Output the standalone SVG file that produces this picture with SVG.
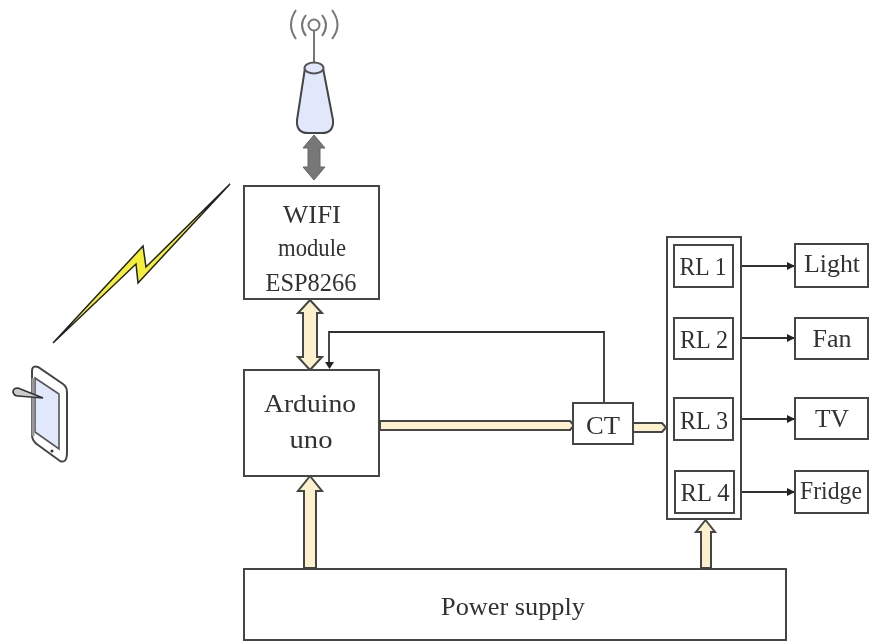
<svg xmlns="http://www.w3.org/2000/svg" width="869" height="644" viewBox="0 0 869 644">
<style>
.b{fill:#fff;stroke:#444;stroke-width:2}
.t{font-family:"Liberation Serif","Times New Roman",serif;font-size:26px;fill:#333;text-anchor:middle}
.a{fill:#fdf0cc;stroke:#444;stroke-width:2}
.l{fill:none;stroke:#333;stroke-width:1.8}
</style>
<defs>
<marker id="h" markerWidth="9" markerHeight="9" refX="7" refY="4" orient="auto" markerUnits="userSpaceOnUse"><path d="M0 0L8 4L0 8Z" fill="#222"/></marker>
<filter id="s" x="-5%" y="-5%" width="110%" height="110%"><feGaussianBlur stdDeviation="0.6"/></filter>
</defs>
<g filter="url(#s)">
<g id="connectors">
<path class="a" d="M310 300L322 313H317V357H322L310 370L298 357H303V313H298Z"/>
<path class="l" d="M329 363V332H604V403"/>
<path d="M325 362H334L329.500 369Z" fill="#222"/>
<path class="a" d="M380 421H570L574 425.500L570 430H380Z"/>
<path class="a" d="M633 423H662L666 427.500L662 432H633Z"/>
<path class="a" d="M304 568V491H298L310 476L322 491H316V568Z"/>
<path class="a" d="M701 568V532H696L705.500 520L715 532H711V568Z"/>
<path class="l" d="M733 266H794" marker-end="url(#h)"/>
<path class="l" d="M733 338H794" marker-end="url(#h)"/>
<path class="l" d="M733 419H794" marker-end="url(#h)"/>
<path class="l" d="M733 492H794" marker-end="url(#h)"/>
<path fill="#777" stroke="#666" d="M314 135L325 148H320V167H325L314 180L303 167H308V148H303Z"/>
</g>
<g id="antenna">
<path d="M314 31V64" stroke="#777" stroke-width="2" fill="none"/>
<circle cx="314" cy="25" r="5.500" fill="#fff" stroke="#777" stroke-width="2"/>
<path d="M306 15Q298 25 306 36M322 15Q330 25 322 36M296 10Q286 25 296 39M332 10Q343 25 332 39" fill="none" stroke="#777" stroke-width="2"/>
<path d="M305 68L297 120Q296 133 308 133H322Q334 133 333 120L323 68Z" fill="#e1e8fb" stroke="#444" stroke-width="2"/>
<ellipse cx="314" cy="68" rx="9.500" ry="5.500" fill="#e1e8fb" stroke="#555" stroke-width="2"/>
</g>
<g id="wifi"><rect class="b" x="244" y="186" width="135" height="113"/><text class="t" x="312" y="223" textLength="58" lengthAdjust="spacingAndGlyphs">WIFI</text><text class="t" x="312" y="256" textLength="68" lengthAdjust="spacingAndGlyphs">module</text><text class="t" x="311" y="291" textLength="91" lengthAdjust="spacingAndGlyphs">ESP8266</text></g>
<g id="arduino"><rect class="b" x="244" y="370" width="135" height="106"/><text class="t" x="310" y="412" textLength="92" lengthAdjust="spacingAndGlyphs">Arduino</text><text class="t" x="311" y="448" textLength="43" lengthAdjust="spacingAndGlyphs">uno</text></g>
<g id="ct"><rect class="b" x="573" y="403" width="60" height="41"/><text class="t" x="603" y="434" textLength="34" lengthAdjust="spacingAndGlyphs">CT</text></g>
<g id="relays"><rect class="b" x="667" y="237" width="74" height="282"/>
<rect class="b" x="674" y="245" width="59" height="42"/><text class="t" x="703" y="275" textLength="47" lengthAdjust="spacingAndGlyphs">RL 1</text>
<rect class="b" x="674" y="318" width="59" height="41"/><text class="t" x="704" y="348" textLength="48" lengthAdjust="spacingAndGlyphs">RL 2</text>
<rect class="b" x="674" y="398" width="59" height="42"/><text class="t" x="704" y="429" textLength="48" lengthAdjust="spacingAndGlyphs">RL 3</text>
<rect class="b" x="675" y="471" width="59" height="42"/><text class="t" x="705" y="501" textLength="49" lengthAdjust="spacingAndGlyphs">RL 4</text></g>
<g id="light"><rect class="b" x="795" y="244" width="73" height="43"/><text class="t" x="832" y="272" textLength="56" lengthAdjust="spacingAndGlyphs">Light</text></g>
<g id="fan"><rect class="b" x="795" y="318" width="73" height="41"/><text class="t" x="832" y="347" textLength="39" lengthAdjust="spacingAndGlyphs">Fan</text></g>
<g id="tv"><rect class="b" x="795" y="398" width="73" height="41"/><text class="t" x="832" y="427" textLength="34" lengthAdjust="spacingAndGlyphs">TV</text></g>
<g id="fridge"><rect class="b" x="795" y="471" width="73" height="42"/><text class="t" x="831" y="499" textLength="62" lengthAdjust="spacingAndGlyphs">Fridge</text></g>
<g id="power"><rect class="b" x="244" y="569" width="542" height="71"/><text class="t" x="513" y="615" textLength="144" lengthAdjust="spacingAndGlyphs">Power supply</text></g>
<g id="bolt"><path d="M230 184L146 267L143 246L53 343L136 264L138 283Z" fill="#f4ee38" stroke="#222" stroke-width="1.5"/></g>
<g id="tablet">
<path d="M32 371Q32 365 38 367L63 384Q67 387 67 392V452Q67 464 60 461L38 445Q32 441 32 435Z" fill="#fff" stroke="#444" stroke-width="2"/>
<path d="M35 378L59 394V449L35 432Z" fill="#e1e8fb" stroke="#555" stroke-width="1.6"/>
<path d="M33 378V436" stroke="#999" stroke-width="3"/>
<circle cx="52" cy="451" r="1.500" fill="#333"/>
<path d="M43 398L18 388Q13 388 13 392Q14 396 18 396Z" fill="#ccc" stroke="#333" stroke-width="1.6"/>
</g>
</g>
</svg>
